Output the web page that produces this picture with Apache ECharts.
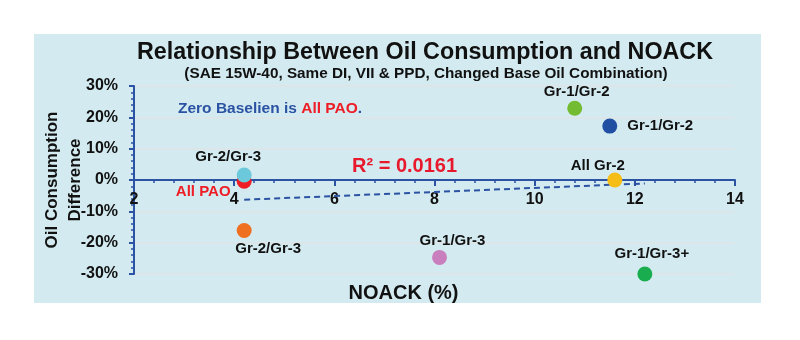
<!DOCTYPE html>
<html><head><meta charset="utf-8">
<script src="https://cdn.jsdelivr.net/npm/echarts@6/dist/echarts.min.js"></script>
<style>html,body{margin:0;padding:0;background:#fff}#c{width:800px;height:340px}</style>
</head><body><div id="c"></div>
<script>
// ---- data ----
const pointNames = ['All PAO', 'Gr-2/Gr-3', 'Gr-2/Gr-3', 'Gr-1/Gr-3', 'Gr-1/Gr-2', 'Gr-1/Gr-2', 'All Gr-2', 'Gr-1/Gr-3+'];
const noack      = [4.2, 4.2, 4.2, 8.1, 10.8, 11.5, 11.6, 12.2];
const oilDiff    = [-0.4, 1.6, -16.1, -24.7, 22.9, 17.2, 0, -30.0];
const trendX = [4.2, 12.2];
const trendY = [-6.3, -1.1];
const xTicks = [2, 4, 6, 8, 10, 12, 14];
const yTicks = [-30, -20, -10, 0, 10, 20, 30];
const rSquared = '0.0161';

// ---- styles ----
const ff = 'Liberation Sans, Arial, sans-serif';
const axisBlue = '#2b52a3';
const pointStyle = [
  { color: '#ee1c25', label: { position: 'inside', offset: [-41, 11], color: '#ee1c25' } },
  { color: '#6cc9dc', label: { position: 'top', offset: [-16, 2] } },
  { color: '#f07022', label: { position: 'bottom', offset: [24, -2] } },
  { color: '#c97fbd', label: { position: 'top', offset: [13, 3] } },
  { color: '#73bb30', label: { position: 'top', offset: [2, 4] } },
  { color: '#1f4ea3', label: { position: 'right', distance: 10 } },
  { color: '#f7bd17', label: { position: 'top', offset: [-17, 6] } },
  { color: '#1aad50', label: { position: 'top', offset: [7, 0] } }
];

const scatterData = noack.map((x, i) => ({
  value: [x, oilDiff[i]],
  name: pointNames[i],
  itemStyle: { color: pointStyle[i].color, opacity: 1 },
  label: Object.assign({ show: true, formatter: '{b}' }, pointStyle[i].label)
}));

const chart = echarts.init(document.getElementById('c'), null, { renderer: 'canvas' });
chart.setOption({
  animation: false,
  backgroundColor: '#ffffff',
  textStyle: { fontFamily: ff },
  title: [
    { text: 'Relationship Between Oil Consumption and NOACK', left: 420, top: 36, textAlign: 'center',
      textStyle: { fontFamily: ff, fontSize: 23.3, fontWeight: 'bold', color: '#111' } },
    { text: '(SAE 15W-40, Same DI, VII & PPD, Changed Base Oil Combination)', left: 421, top: 61, textAlign: 'center',
      textStyle: { fontFamily: ff, fontSize: 15.3, fontWeight: 'bold', color: '#111' } }
  ],
  graphic: [
    { type: 'rect', shape: { x: 34, y: 34, width: 727, height: 269 }, style: { fill: '#d3ebf0' }, z: -10, silent: true },
    { type: 'text', left: 178, top: 101, z: 10,
      style: { text: '{b|Zero Baselien is }{r|All PAO}{b|.}',
        rich: { b: { fill: '#2b52a3', fontSize: 15.5, fontWeight: 'bold', fontFamily: ff },
                r: { fill: '#ee1c25', fontSize: 15.5, fontWeight: 'bold', fontFamily: ff } } } },
    { type: 'text', left: 352, top: 156, z: 10,
      style: { text: 'R² = ' + rSquared, fill: '#e8192c', fontSize: 20, fontWeight: 'bold', fontFamily: ff } }
  ],
  grid: { left: 134, right: 65, top: 86, bottom: 66, containLabel: false, outerBoundsMode: 'none' },
  xAxis: {
    type: 'value', min: xTicks[0], max: xTicks[xTicks.length - 1], interval: 2,
    position: 'bottom', offset: -94,
    axisLine: { show: true, onZero: false, lineStyle: { color: axisBlue, width: 2 } },
    axisTick: { show: true, length: 6, lineStyle: { color: axisBlue, width: 2 } },
    minorTick: { show: true, splitNumber: 5, length: 3, lineStyle: { color: axisBlue, width: 1.5 } },
    axisLabel: { color: '#111', fontSize: 16, fontWeight: 'bold', fontFamily: ff, margin: 12 },
    splitLine: { show: false },
    name: 'NOACK (%)', nameLocation: 'middle', nameGap: 103, nameMoveOverlap: false,
    nameTextStyle: { color: '#111', fontSize: 20, fontWeight: 'bold', fontFamily: ff, padding: [0, 62, 0, 0] }
  },
  yAxis: {
    type: 'value', min: yTicks[0], max: yTicks[yTicks.length - 1], interval: 10,
    axisLine: { show: true, onZero: false, lineStyle: { color: axisBlue, width: 2 } },
    axisTick: { show: true, length: 5, lineStyle: { color: axisBlue, width: 2 } },
    minorTick: { show: true, splitNumber: 5, length: 3, lineStyle: { color: axisBlue, width: 1.5 } },
    axisLabel: { color: '#111', fontSize: 16, fontWeight: 'bold', fontFamily: ff, margin: 16, formatter: '{value}%' },
    splitLine: { show: true, lineStyle: { color: '#dfe4e6', width: 1.5 } },
    name: 'Oil Consumption\nDifference', nameLocation: 'middle', nameGap: 47, nameRotate: 90, nameMoveOverlap: false,
    nameTextStyle: { color: '#111', fontSize: 17, fontWeight: 'bold', fontFamily: ff, lineHeight: 23 }
  },
  series: [
    { type: 'line', data: trendX.map((x, i) => [x, trendY[i]]), symbol: 'none', z: 2,
      lineStyle: { color: axisBlue, width: 2, type: [6, 4] } },
    { type: 'scatter', symbolSize: 15, z: 3, data: scatterData,
      label: { color: '#111', fontSize: 15, fontWeight: 'bold', fontFamily: ff } }
  ]
});
</script></body></html>
